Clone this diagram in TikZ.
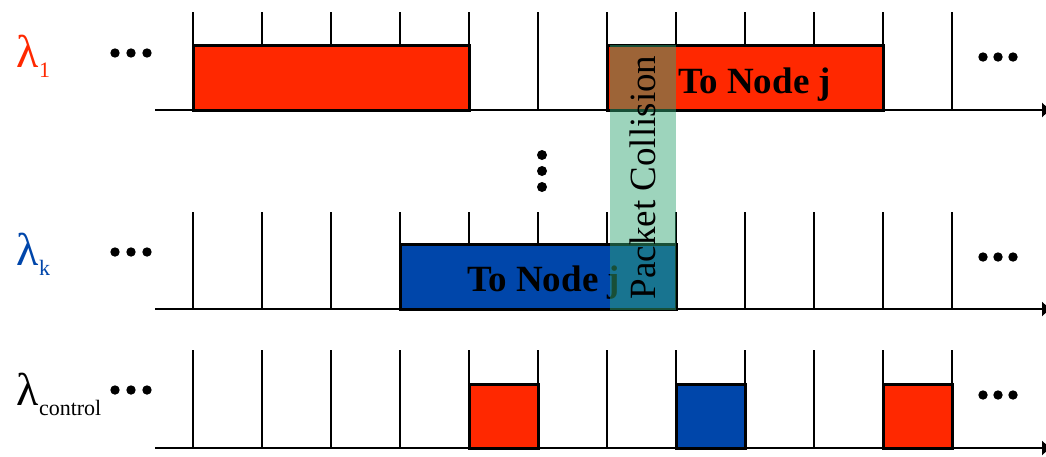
\documentclass[tikz,border=0pt]{standalone}
\usepackage{fontspec}
\setmainfont{Liberation Serif}
\usetikzlibrary{arrows.meta}
\definecolor{pktred}{RGB}{255,40,0}
\definecolor{pktblue}{RGB}{0,70,170}
\definecolor{collgreen}{RGB}{52,167,117}
\newcommand{\lamlabel}[1]{{\fontsize{46}{48}\selectfont λ}\kern0.5pt\raisebox{-10pt}{\fontsize{22}{24}\selectfont #1}}
\tikzset{
  axisline/.style={line width=2.8pt, -{Triangle[length=8pt,width=14pt]}},
  slottick/.style={line width=2.8pt},
  packet/.style={draw=black, line width=3pt},
  dot/.style={fill=black},
  lamtext/.style={inner sep=0pt, anchor=base west},
  boxtext/.style={inner sep=0pt, anchor=base west, font=\fontsize{37}{40}\selectfont\bfseries},
}
\begin{document}
\begin{tikzpicture}[x=1pt,y=-1pt]
\path[use as bounding box, clip] (0,0) rectangle (1046,456);
\fill[white] (0,0) rectangle (1046,456);

% three wavelength time axes with slot boundaries
\foreach \base/\top in {110/12, 309/212, 448/350}{
  \coordinate (s\base) at (155,\base);
  \coordinate (e\base) at (1050,\base);
  \draw[axisline] (s\base) -- (e\base);
  \foreach \i in {0,...,11}{
    \draw[slottick] ({193+69*\i},\base) -- ({193+69*\i},\top);
  }
}

% data packets on lambda_1
\draw[packet, fill=pktred] (193,45) rectangle (469,110);
\draw[packet, fill=pktred] (607,45) rectangle (883,110);
\node[boxtext] (t1) at (678,93) {To Node j};

% data packet on lambda_k
\draw[packet, fill=pktblue] (400,244) rectangle (676,309);
\node[boxtext] (tk) at (467,291) {To Node j};

% control packets
\draw[packet, fill=pktred] (469,384) rectangle (538,448);
\draw[packet, fill=pktblue] (676,384) rectangle (745,448);
\draw[packet, fill=pktred] (883,384) rectangle (952,448);

% collision region
\fill[collgreen, fill opacity=0.48] (610,45) rectangle (676,310);
\node[inner sep=0pt, anchor=base, rotate=90, font=\fontsize{37}{40}\selectfont] (pc) at (655,177.5) {Packet Collision};

% wavelength labels
\node[lamtext, text=pktred] (l1) at (16,67) {\lamlabel{1}};
\node[lamtext, text=pktblue] (lk) at (16,265) {\lamlabel{k}};
\node[lamtext, text=black] (lc) at (16,405) {\lamlabel{control}};

% ellipses
\foreach \y in {53,252,390}{
  \foreach \x in {115,131,147}{ \fill[dot] (\x,\y) circle (4.7); }
}
\foreach \y in {57,257,395}{
  \foreach \x in {983,998,1013}{ \fill[dot] (\x,\y) circle (4.7); }
}
\foreach \y in {155,171,187}{ \fill[dot] (542,\y) circle (5); }
\end{tikzpicture}
\end{document}
